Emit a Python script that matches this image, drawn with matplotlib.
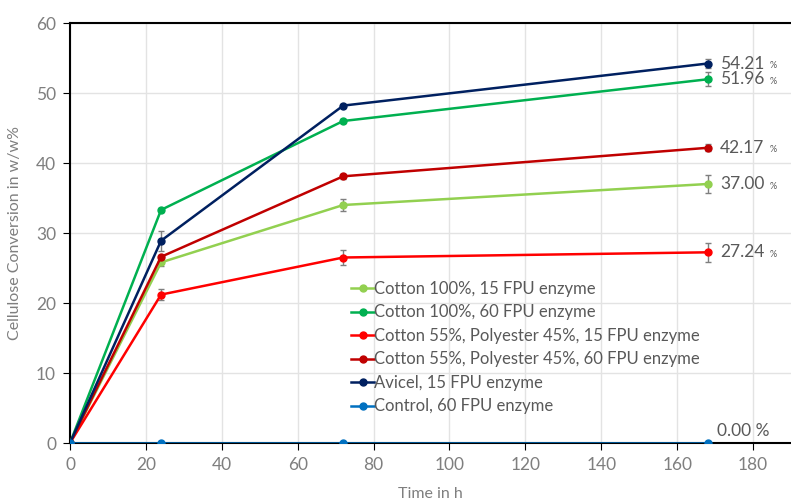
import matplotlib.pyplot as plt

plt.rcParams["font.family"] = ["Lato", "DejaVu Sans"]

hours = [0, 24, 72, 168]
labels = [
    "Cotton 100%, 15 FPU enzyme",
    "Cotton 100%, 60 FPU enzyme",
    "Cotton 55%, Polyester 45%, 15 FPU enzyme",
    "Cotton 55%, Polyester 45%, 60 FPU enzyme",
    "Avicel, 15 FPU enzyme",
    "Control, 60 FPU enzyme",
]
colors = ["#92D050", "#00B050", "#FF0000", "#C00000", "#002060", "#0070C0"]
values = [
    [0, 25.8, 34.0, 37.00],
    [0, 33.3, 46.0, 51.96],
    [0, 21.2, 26.5, 27.24],
    [0, 26.6, 38.1, 42.17],
    [0, 28.9, 48.2, 54.21],
    [0, 0, 0, 0.00],
]
errors = [
    [0, 0.5, 0.8, 1.3],
    [0, 0.3, 0.3, 1.0],
    [0, 0.8, 1.1, 1.4],
    [0, 0.3, 0.4, 0.5],
    [0, 1.4, 0.3, 0.6],
    [0, 0, 0, 0],
]

grey = "#7F7F7F"
fig = plt.figure(figsize=(7.91, 5.0), dpi=100)
ax = fig.add_axes([70 / 791, 57 / 500, 1 - 70 / 791, 420 / 500])

for lab, col, vals, err in zip(labels, colors, values, errors):
    ax.errorbar(hours, vals, yerr=err, color=col, lw=1.8, marker="o", ms=5,
                ecolor=grey, elinewidth=1, capsize=2.5, label=lab, zorder=3)

for vals in values:
    v = vals[-1]
    if v == 0:
        ax.text(170.5, v + 0.6, f"{v:.2f} %", color="#595959", fontsize=12.5,
                va="bottom", ha="left")
    else:
        ax.annotate(f"{v:.2f}", (171.3, v), color="#595959", fontsize=12.5,
                    va="center", ha="left")
        ax.annotate("%", (171.3, v), xytext=(36, -1.5), textcoords="offset points",
                    color="#595959", fontsize=6.5, va="center", ha="left")

ax.set_xlim(0, 190)
ax.set_ylim(0, 60)
ax.set_xticks(range(0, 181, 20))
ax.set_yticks(range(0, 61, 10))
ax.grid(True, color="#E3E3E3", lw=1)
ax.set_axisbelow(True)
for s in ["left", "bottom", "top"]:
    ax.spines[s].set_color("black")
    ax.spines[s].set_linewidth(1.5)
ax.spines["right"].set_visible(False)
ax.tick_params(colors=grey, labelsize=12.5, direction="out", length=5, pad=5)
ax.tick_params(axis="both", color="black")
ax.set_ylabel("Cellulose Conversion in w/w%", color=grey, fontsize=11.5, labelpad=10)
ax.set_xlabel("Time in h", color=grey, fontsize=11.5, labelpad=10)

handles, labs = ax.get_legend_handles_labels()
handles = [h[0] for h in handles]
ax.legend(handles, labs, loc="lower left", bbox_to_anchor=(0.381, 0.052),
          frameon=False, fontsize=12, labelcolor="#595959", handlelength=1.35,
          handletextpad=0.0, labelspacing=0.45, borderaxespad=0)

fig.savefig("out.png")
